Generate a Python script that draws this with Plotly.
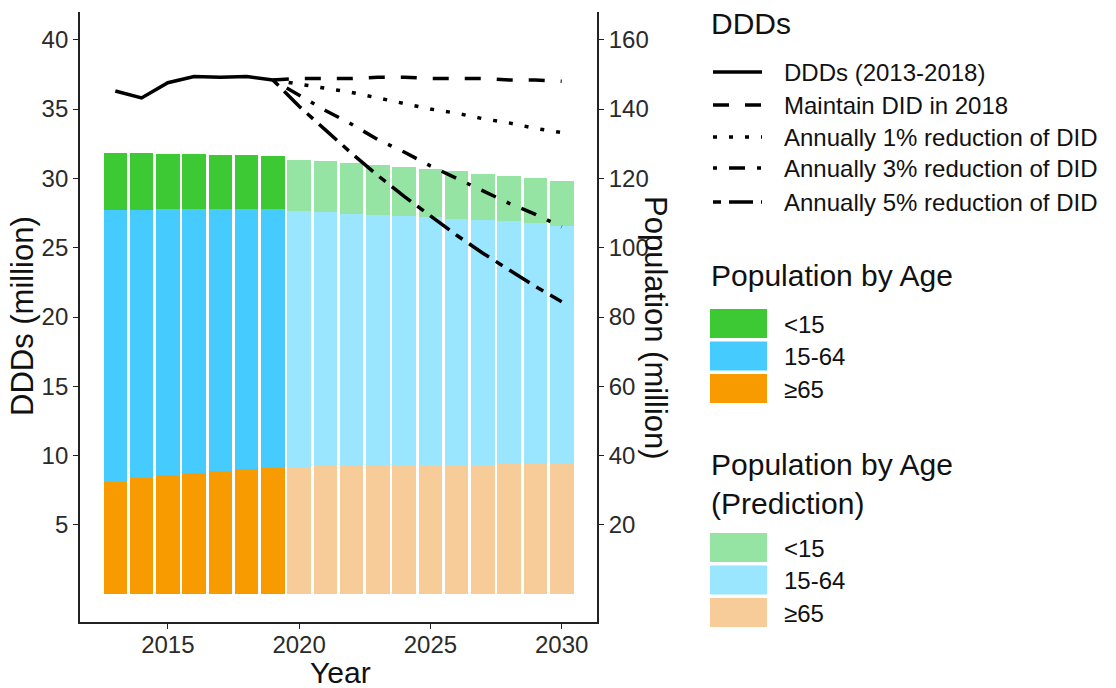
import plotly.graph_objects as go

# ---- data -------------------------------------------------------------
years_hist = [2013, 2014, 2015, 2016, 2017, 2018, 2019]
years_pred = [2020, 2021, 2022, 2023, 2024, 2025, 2026, 2027, 2028, 2029, 2030]
years_proj = [2019, 2020, 2021, 2022, 2023, 2024, 2025, 2026, 2027, 2028, 2029, 2030]

# population by age group (million)
pop_u15_hist = [16.4, 16.2, 16.0, 15.8, 15.6, 15.4, 15.1]
pop_15_64_hist = [78.4, 77.5, 76.8, 76.2, 75.6, 75.1, 74.9]
pop_65_hist = [32.5, 33.5, 34.3, 35.0, 35.6, 36.1, 36.4]

pop_u15_pred = [14.9, 14.7, 14.6, 14.4, 14.1, 13.9, 13.7, 13.4, 13.2, 13.0, 13.0]
pop_15_64_pred = [73.8, 73.3, 72.8, 72.4, 72.0, 71.5, 70.9, 70.6, 70.1, 69.6, 68.7]
pop_65_pred = [36.7, 36.9, 37.0, 37.1, 37.2, 37.3, 37.4, 37.4, 37.5, 37.5, 37.6]

# DDDs (million)
ddd_hist = [36.3, 35.8, 36.9, 37.35, 37.3, 37.35, 37.1]
ddd_maintain = [37.1, 37.2, 37.2, 37.2, 37.3, 37.3, 37.2, 37.2, 37.2, 37.1, 37.1, 37.0]
ddd_cut1 = [37.1, 36.8, 36.5, 36.2, 35.8, 35.4, 35.0, 34.7, 34.3, 34.0, 33.6, 33.3]
ddd_cut3 = [37.1, 36.0, 34.9, 33.9, 32.8, 31.9, 30.9, 30.0, 29.1, 28.2, 27.4, 26.5]
ddd_cut5 = [37.1, 35.2, 33.5, 31.8, 30.2, 28.7, 27.3, 25.9, 24.6, 23.4, 22.2, 21.1]

age_labels = ["<15", "15-64", "≥65"]
line_labels = ["DDDs (2013-2018)", "Maintain DID in 2018",
               "Annually 1% reduction of DID", "Annually 3% reduction of DID",
               "Annually 5% reduction of DID"]

# ---- styling ----------------------------------------------------------
FONT = "Liberation Sans, Arial, sans-serif"
C_HIST = {"<15": "#3DC933", "15-64": "#46CBFF", "≥65": "#F79B00"}
C_PRED = {"<15": "#96E4A3", "15-64": "#9AE5FF", "≥65": "#F8CC99"}
DASHES = ["solid", "16px,16px", "4px,12px", "4px,12px,16px,12px", "8px,8px,24px,8px"]
LW = 3.5
TEXT = "#111111"
TICK_TEXT = "#2a2a2a"

# plot area in pixels
L, T, W, H = 80, 12, 517, 610
FIG_W, FIG_H = 1116, 688


def px(x):
    return (x - L) / W


def py(y):
    return (T + H - y) / H


fig = go.Figure()

# stacked population bars (bottom to top: >=65, 15-64, <15)
hist_vals = {"≥65": pop_65_hist, "15-64": pop_15_64_hist, "<15": pop_u15_hist}
pred_vals = {"≥65": pop_65_pred, "15-64": pop_15_64_pred, "<15": pop_u15_pred}
for grp in ["≥65", "15-64", "<15"]:
    fig.add_trace(go.Bar(x=years_hist, y=hist_vals[grp], width=0.9,
                         marker=dict(color=C_HIST[grp], line=dict(width=0)),
                         yaxis="y", showlegend=False, name=grp))
    fig.add_trace(go.Bar(x=years_pred, y=pred_vals[grp], width=0.9,
                         marker=dict(color=C_PRED[grp], line=dict(width=0)),
                         yaxis="y", showlegend=False, name=grp + " (prediction)"))

# DDD lines
fig.add_trace(go.Scatter(x=years_hist, y=ddd_hist, mode="lines", yaxis="y2",
                         line=dict(color="black", width=LW, dash=DASHES[0]),
                         showlegend=False, name=line_labels[0]))
for vals, dash, name in zip([ddd_maintain, ddd_cut1, ddd_cut3, ddd_cut5],
                            DASHES[1:], line_labels[1:]):
    fig.add_trace(go.Scatter(x=years_proj, y=vals, mode="lines", yaxis="y2",
                             line=dict(color="black", width=LW, dash=dash),
                             showlegend=False, name=name))

axis_common = dict(showgrid=False, zeroline=False, showline=True,
                   linecolor="#222222", linewidth=1.8, ticks="outside",
                   ticklen=5, tickwidth=1.4, tickcolor="#222222",
                   tickfont=dict(family=FONT, size=24, color=TICK_TEXT))

fig.update_layout(
    width=FIG_W, height=FIG_H,
    margin=dict(l=L, r=FIG_W - L - W, t=T, b=FIG_H - T - H),
    paper_bgcolor="white", plot_bgcolor="white",
    barmode="stack", bargap=0,
    font=dict(family=FONT),
    xaxis=dict(range=[2011.655, 2031.345], tickvals=[2015, 2020, 2025, 2030],
               ticklabelstandoff=-5, **axis_common),
    yaxis=dict(range=[-8, 168], tickvals=[20, 40, 60, 80, 100, 120, 140, 160],
               side="right", **axis_common),
    yaxis2=dict(range=[-2, 42], tickvals=[5, 10, 15, 20, 25, 30, 35, 40],
                side="left", overlaying="y", **axis_common),
)

annotations = []
shapes = []

# axis titles
annotations.append(dict(text="DDDs (million)", x=px(22), y=py(316), textangle=-90,
                        font=dict(size=31, color=TEXT)))
annotations.append(dict(text="Population (million)", x=px(656), y=py(328), textangle=90,
                        font=dict(size=31, color=TEXT)))
annotations.append(dict(text="Year", x=px(340), y=py(672),
                        font=dict(size=30, color=TEXT)))

# legend: DDD lines
annotations.append(dict(text="DDDs", x=px(709), y=py(24), xanchor="left",
                        font=dict(size=30, color=TEXT)))
line_rows = [72, 105, 137, 168, 202]
for row, dash, label in zip(line_rows, DASHES, line_labels):
    shapes.append(dict(type="line", xref="paper", yref="paper",
                       x0=px(713), x1=px(762), y0=py(row), y1=py(row),
                       line=dict(color="black", width=LW, dash=dash)))
    annotations.append(dict(text=label, x=px(782), y=py(row), xanchor="left",
                            font=dict(size=24, color=TEXT)))

# legend: observed population
annotations.append(dict(text="Population by Age", x=px(709), y=py(276), xanchor="left",
                        font=dict(size=30, color=TEXT)))
for i, grp in enumerate(age_labels):
    top = 309 + i * 32.5
    shapes.append(dict(type="rect", xref="paper", yref="paper",
                       x0=px(710), x1=px(767), y0=py(top), y1=py(top + 29),
                       fillcolor=C_HIST[grp], line=dict(width=0)))
    annotations.append(dict(text=grp, x=px(782), y=py(top + 15), xanchor="left",
                            font=dict(size=24, color=TEXT)))

# legend: predicted population
annotations.append(dict(text="Population by Age<br>(Prediction)", x=px(709), y=py(484),
                        xanchor="left", align="left",
                        font=dict(size=30, color=TEXT)))
for i, grp in enumerate(age_labels):
    top = 533 + i * 32.5
    shapes.append(dict(type="rect", xref="paper", yref="paper",
                       x0=px(710), x1=px(767), y0=py(top), y1=py(top + 29),
                       fillcolor=C_PRED[grp], line=dict(width=0)))
    annotations.append(dict(text=grp, x=px(782), y=py(top + 15), xanchor="left",
                            font=dict(size=24, color=TEXT)))

for a in annotations:
    a.setdefault("xref", "paper")
    a.setdefault("yref", "paper")
    a.setdefault("showarrow", False)
    a.setdefault("yanchor", "middle")
    a.setdefault("xanchor", "center")

fig.update_layout(annotations=annotations, shapes=shapes)

fig.write_html("out.html")
